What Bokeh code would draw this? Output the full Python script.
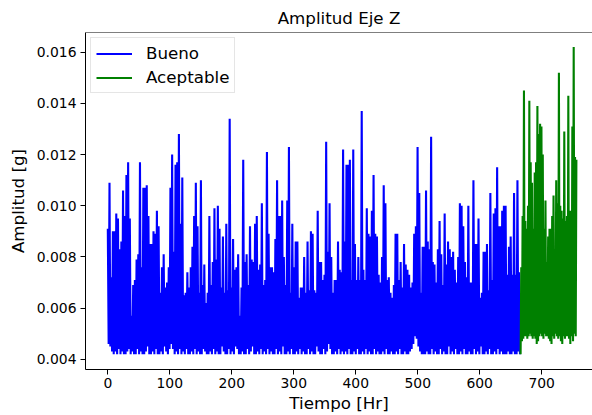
import numpy as np
from bokeh.plotting import figure
from bokeh.models import Range1d, FixedTicker, PrintfTickFormatter, Span
from bokeh.embed import file_html
from bokeh.resources import INLINE

FONT = "DejaVu Sans"

titulo = "Amplitud Eje Z"
etiqueta_x = "Tiempo [Hr]"
etiqueta_y = "Amplitud [g]"
x_ticks = [0, 100, 200, 300, 400, 500, 600, 700]
y_ticks = [0.004, 0.006, 0.008, 0.010, 0.012, 0.014, 0.016]

# Intervalos de tiempo de cada estado [Hr]
bueno_inicio, bueno_fin = 0, 665
aceptable_inicio, aceptable_fin = 666, 756

# Picos (máximos locales), estado "Bueno"
bueno_picos = [
    0.0091, 0.0109, 0.0072, 0.0090, 0.0090, 0.0097, 0.0095, 0.0083, 0.0086, 0.0106,
    0.0096, 0.0112, 0.0117, 0.0095, 0.0057, 0.0069, 0.0071, 0.0079, 0.0081, 0.0117,
    0.0076, 0.0107, 0.0107, 0.0108, 0.0096, 0.0085, 0.0085, 0.0090, 0.0089, 0.0098,
    0.0092, 0.0066, 0.0076, 0.0081, 0.0068, 0.0070, 0.0076, 0.0107, 0.0120, 0.0082,
    0.0116, 0.0117, 0.0128, 0.0093, 0.0111, 0.0065, 0.0066, 0.0074,
    0.0068, 0.0076, 0.0084, 0.0096, 0.0109, 0.0092, 0.0066, 0.0110, 0.0069, 0.0077,
    0.0062, 0.0066, 0.0096, 0.0069, 0.0078, 0.0099, 0.0079, 0.0100, 0.0091, 0.0068,
    0.0088, 0.0066, 0.0093, 0.0067, 0.0134, 0.0068, 0.0087, 0.0075, 0.0076, 0.0081,
    0.0057, 0.0068, 0.0118, 0.0078, 0.0081, 0.0069, 0.0092, 0.0079, 0.0078, 0.0093,
    0.0096, 0.0075, 0.0077, 0.0101, 0.0069,
    0.0071, 0.0121, 0.0089, 0.0076, 0.0076, 0.0074, 0.0087, 0.0110, 0.0096, 0.0096,
    0.0102, 0.0080, 0.0069, 0.0102, 0.0123, 0.0066, 0.0093, 0.0076, 0.0086, 0.0086,
    0.0064, 0.0068, 0.0068, 0.0080, 0.0066, 0.0086, 0.0067, 0.0090, 0.0089, 0.0067,
    0.0066, 0.0098, 0.0078, 0.0078, 0.0071, 0.0073, 0.0125, 0.0082, 0.0101, 0.0080,
    0.0066, 0.0071, 0.0071, 0.0086, 0.0075, 0.0074, 0.0122,
    0.0086, 0.0116, 0.0116, 0.0118, 0.0071, 0.0122, 0.0085, 0.0071, 0.0080, 0.0071,
    0.0137, 0.0075, 0.0071, 0.0099, 0.0089, 0.0088, 0.0098, 0.0112, 0.0089, 0.0088,
    0.0073, 0.0070, 0.0080, 0.0108, 0.0101, 0.0071, 0.0072, 0.0066, 0.0064, 0.0069,
    0.0089, 0.0089, 0.0071, 0.0078, 0.0068, 0.0085, 0.0077, 0.0075, 0.0073, 0.0068,
    0.0070, 0.0089, 0.0092, 0.0123, 0.0105, 0.0066, 0.0084,
    0.0084, 0.0106, 0.0086, 0.0083, 0.0127, 0.0078, 0.0077, 0.0070, 0.0083, 0.0094,
    0.0081, 0.0069, 0.0097, 0.0077, 0.0086, 0.0083, 0.0080, 0.0082, 0.0075, 0.0070,
    0.0080, 0.0101, 0.0100, 0.0092, 0.0078, 0.0072, 0.0100, 0.0070, 0.0070, 0.0110,
    0.0085, 0.0085, 0.0095, 0.0064, 0.0066, 0.0082, 0.0082, 0.0085, 0.0067, 0.0105,
    0.0071, 0.0097, 0.0099, 0.0115, 0.0092, 0.0092, 0.0098, 0.0100,
    0.0100, 0.0073, 0.0084, 0.0088, 0.0073, 0.0105, 0.0073, 0.0110, 0.0074,
]

# Valles (mínimos locales), estado "Bueno"
bueno_valles = [
    0.0046, 0.0045, 0.0043, 0.0042, 0.0043, 0.0042, 0.0044, 0.0042, 0.0043, 0.0042,
    0.0042, 0.0043, 0.0044, 0.0042, 0.0043, 0.0042, 0.0042, 0.0044, 0.0042, 0.0043,
    0.0042, 0.0042, 0.0043, 0.0045, 0.0042, 0.0042, 0.0043, 0.0042, 0.0044, 0.0042,
    0.0042, 0.0043, 0.0042, 0.0045, 0.0043, 0.0042, 0.0044, 0.0046, 0.0044, 0.0042,
    0.0043, 0.0042, 0.0044, 0.0042, 0.0043, 0.0042, 0.0044, 0.0042,
    0.0042, 0.0043, 0.0042, 0.0044, 0.0042, 0.0043, 0.0042, 0.0042, 0.0044, 0.0043,
    0.0042, 0.0042, 0.0043, 0.0042, 0.0044, 0.0042, 0.0043, 0.0042, 0.0042, 0.0045,
    0.0043, 0.0042, 0.0042, 0.0044, 0.0042, 0.0043, 0.0042, 0.0045, 0.0044, 0.0042,
    0.0042, 0.0043, 0.0042, 0.0042, 0.0044, 0.0042, 0.0043, 0.0045, 0.0042, 0.0042,
    0.0043, 0.0042, 0.0044, 0.0042, 0.0043,
    0.0042, 0.0044, 0.0042, 0.0043, 0.0042, 0.0042, 0.0044, 0.0042, 0.0043, 0.0042,
    0.0045, 0.0042, 0.0042, 0.0043, 0.0042, 0.0044, 0.0042, 0.0042, 0.0043, 0.0042,
    0.0044, 0.0042, 0.0043, 0.0042, 0.0042, 0.0044, 0.0042, 0.0043, 0.0042, 0.0042,
    0.0045, 0.0043, 0.0042, 0.0042, 0.0044, 0.0042, 0.0043, 0.0046, 0.0044, 0.0042,
    0.0042, 0.0043, 0.0042, 0.0044, 0.0042, 0.0043, 0.0042,
    0.0043, 0.0042, 0.0044, 0.0042, 0.0042, 0.0043, 0.0042, 0.0044, 0.0042, 0.0042,
    0.0043, 0.0042, 0.0044, 0.0042, 0.0043, 0.0042, 0.0042, 0.0044, 0.0042, 0.0043,
    0.0042, 0.0042, 0.0043, 0.0042, 0.0044, 0.0042, 0.0042, 0.0043, 0.0042, 0.0042,
    0.0043, 0.0042, 0.0044, 0.0042, 0.0042, 0.0043, 0.0042, 0.0042, 0.0043, 0.0044,
    0.0046, 0.0049, 0.0048, 0.0045, 0.0043, 0.0042, 0.0042,
    0.0042, 0.0043, 0.0042, 0.0042, 0.0044, 0.0042, 0.0043, 0.0042, 0.0042, 0.0044,
    0.0042, 0.0043, 0.0042, 0.0042, 0.0045, 0.0042, 0.0043, 0.0042, 0.0044, 0.0042,
    0.0042, 0.0043, 0.0042, 0.0044, 0.0042, 0.0042, 0.0043, 0.0042, 0.0042, 0.0044,
    0.0042, 0.0043, 0.0042, 0.0045, 0.0042, 0.0042, 0.0043, 0.0042, 0.0044, 0.0042,
    0.0042, 0.0043, 0.0042, 0.0044, 0.0042, 0.0043, 0.0042, 0.0042,
    0.0042, 0.0043, 0.0042, 0.0042, 0.0043, 0.0042, 0.0042, 0.0043, 0.0042,
]

# Estado "Aceptable"
aceptable_valles = [
    0.0042, 0.0047, 0.0048, 0.0049, 0.0049, 0.0048, 0.0049, 0.0050, 0.0049, 0.0048,
    0.0049, 0.0048, 0.0046, 0.0047, 0.0049, 0.0050, 0.0049, 0.0048, 0.0050, 0.0049,
    0.0049, 0.0048, 0.0047, 0.0046, 0.0049, 0.0048, 0.0050, 0.0049, 0.0048, 0.0049,
    0.0047, 0.0046, 0.0049, 0.0048, 0.0049, 0.0049, 0.0048, 0.0046, 0.0049, 0.0047,
    0.0050, 0.0049,
]
aceptable_picos = [
    0.0076, 0.0096, 0.0145, 0.0094, 0.0091, 0.0100, 0.0141, 0.0117, 0.0109, 0.0091,
    0.0113, 0.0117, 0.0139, 0.0128, 0.0132, 0.0131, 0.0120, 0.0091, 0.0102, 0.0078,
    0.0088, 0.0091, 0.0091, 0.0096, 0.0104, 0.0073, 0.0110, 0.0101, 0.0152, 0.0100,
    0.0098, 0.0095, 0.0129, 0.0094, 0.0096, 0.0143, 0.0098, 0.0098, 0.0131, 0.0162,
    0.0119, 0.0118,
]

# Series: alternancia pico / valle
bueno_y = [v for par in zip(bueno_picos, bueno_valles) for v in par]
bueno_x = np.linspace(bueno_inicio, bueno_fin, len(bueno_y))
aceptable_y = [v for par in zip(aceptable_valles, aceptable_picos) for v in par]
aceptable_x = np.linspace(aceptable_inicio, aceptable_fin, len(aceptable_y))

p = figure(
    width=592, height=415,
    output_backend="svg", toolbar_location=None,
    x_range=Range1d(-36, 782), y_range=Range1d(0.0036, 0.01677),
    min_border_left=85, min_border_right=0, min_border_top=32, min_border_bottom=43,
    title=titulo,
)
p.background_fill_color = "white"
p.border_fill_color = "white"
p.outline_line_color = None
p.grid.visible = False

p.title.text_font = FONT
p.title.text_font_size = "16.7px"
p.title.text_font_style = "normal"
p.title.align = "center"
p.title.text_color = "black"

p.line(bueno_x, bueno_y, line_color="#0000ff", line_width=2.1, legend_label="Bueno")
p.line(aceptable_x, aceptable_y, line_color="#008000", line_width=2.1, legend_label="Aceptable")

p.add_layout(Span(location=0.01677, dimension="width", line_color="black", line_width=1))

for ax in (p.xaxis[0], p.yaxis[0]):
    ax.axis_line_color = "black"
    ax.axis_line_width = 1
    ax.major_tick_line_color = "black"
    ax.major_tick_out = 5
    ax.major_tick_in = 0
    ax.minor_tick_out = 0
    ax.minor_tick_in = 0
    ax.major_label_text_font = FONT
    ax.major_label_text_font_size = "13.9px"
    ax.major_label_text_color = "black"
    ax.axis_label_text_font = FONT
    ax.axis_label_text_font_size = "16.7px"
    ax.axis_label_text_font_style = "normal"
    ax.axis_label_text_color = "black"

p.xaxis.ticker = FixedTicker(ticks=x_ticks)
p.yaxis.ticker = FixedTicker(ticks=y_ticks)
p.yaxis.formatter = PrintfTickFormatter(format="%.3f")
p.xaxis.axis_label = etiqueta_x
p.yaxis.axis_label = etiqueta_y
p.xaxis.major_label_standoff = 3
p.xaxis.axis_label_standoff = 2
p.yaxis.major_label_standoff = 4
p.yaxis.axis_label_standoff = 6

lg = p.legend[0]
lg.location = "top_left"
lg.margin = 5
lg.padding = 5
lg.spacing = 4
lg.label_height = 19
lg.glyph_height = 19
lg.glyph_width = 36
lg.label_standoff = 14
lg.label_text_font = FONT
lg.label_text_font_size = "16.7px"
lg.label_text_color = "black"
lg.border_line_color = "#cccccc"
lg.border_line_width = 1
lg.background_fill_alpha = 0.8

open("out.html", "w").write(file_html(p, INLINE))
